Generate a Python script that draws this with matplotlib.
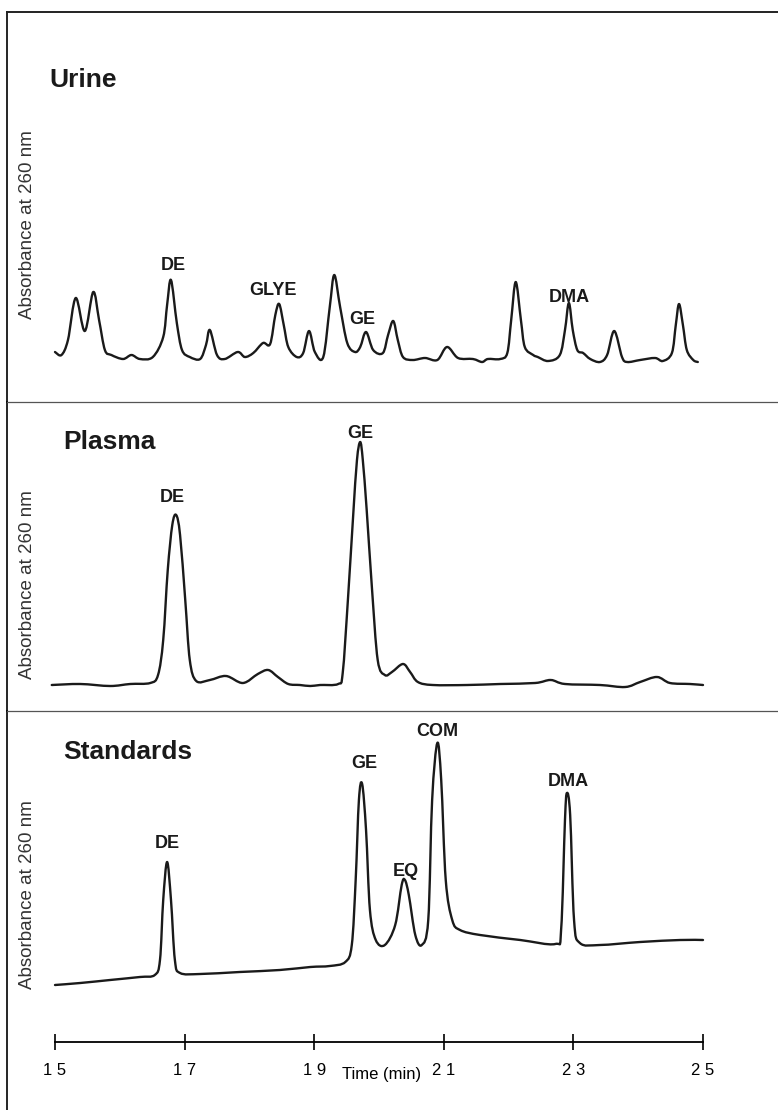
import matplotlib
matplotlib.use('Agg')
import matplotlib.pyplot as plt
import numpy as np
from matplotlib.path import Path
from matplotlib.patches import PathPatch

plt.rcParams['font.family'] = ['Liberation Sans', 'DejaVu Sans']

# retention time (min) and absorbance (arbitrary units)
urine_t = [15.00, 15.10, 15.20, 15.32, 15.46, 15.59, 15.68, 15.77, 15.87, 16.05, 16.18, 16.31,
           16.51, 16.67, 16.73, 16.79, 16.88, 16.96, 17.08, 17.24, 17.33, 17.39, 17.50, 17.62,
           17.82, 17.93, 18.06, 18.21, 18.32, 18.40, 18.46, 18.53, 18.60, 18.73, 18.83, 18.92,
           19.01, 19.14, 19.24, 19.31, 19.40, 19.51, 19.63, 19.71, 19.80, 19.91, 20.06, 20.14,
           20.22, 20.29, 20.37, 20.52, 20.71, 20.90, 21.05, 21.22, 21.45, 21.59, 21.68, 21.87,
           21.98, 22.04, 22.11, 22.19, 22.25, 22.38, 22.45, 22.61, 22.79, 22.87, 22.93, 22.99,
           23.06, 23.15, 23.26, 23.41, 23.52, 23.63, 23.75, 23.83, 24.03, 24.26, 24.38, 24.52,
           24.58, 24.63, 24.69, 24.75, 24.85, 24.92]
urine_a = [0.50, 0.47, 0.62, 1.04, 0.71, 1.10, 0.82, 0.52, 0.47, 0.43, 0.47, 0.43,
           0.45, 0.65, 0.97, 1.22, 0.79, 0.52, 0.45, 0.43, 0.57, 0.72, 0.47, 0.43,
           0.50, 0.45, 0.49, 0.59, 0.58, 0.87, 0.98, 0.77, 0.55, 0.45, 0.49, 0.71,
           0.50, 0.45, 0.95, 1.27, 0.95, 0.59, 0.50, 0.55, 0.70, 0.52, 0.49, 0.67,
           0.81, 0.62, 0.45, 0.42, 0.44, 0.42, 0.55, 0.44, 0.43, 0.40, 0.43, 0.43,
           0.49, 0.82, 1.20, 0.82, 0.55, 0.47, 0.45, 0.41, 0.47, 0.72, 0.99, 0.72,
           0.52, 0.49, 0.43, 0.40, 0.47, 0.71, 0.45, 0.40, 0.42, 0.44, 0.41, 0.49,
           0.77, 0.98, 0.77, 0.52, 0.42, 0.40]

plasma_t = [14.95, 15.39, 15.85, 16.16, 16.47, 16.59, 16.67, 16.74, 16.81, 16.87, 16.93, 17.01,
            17.08, 17.18, 17.39, 17.64, 17.90, 18.13, 18.29, 18.44, 18.60, 18.78, 18.94, 19.09,
            19.37, 19.44, 19.52, 19.60, 19.66, 19.71, 19.75, 19.81, 19.89, 19.98, 20.09, 20.20,
            20.37, 20.48, 20.60, 20.83, 21.36, 21.87, 22.41, 22.65, 22.87, 23.41, 23.80, 24.03,
            24.29, 24.49, 24.80, 25.00]
plasma_a = [0.26, 0.27, 0.25, 0.27, 0.28, 0.36, 0.71, 1.41, 1.86, 1.96, 1.76, 1.11,
            0.51, 0.30, 0.31, 0.35, 0.28, 0.37, 0.41, 0.34, 0.27, 0.26, 0.25, 0.26,
            0.27, 0.38, 1.11, 1.94, 2.51, 2.69, 2.51, 2.01, 1.24, 0.51, 0.36, 0.39,
            0.47, 0.39, 0.29, 0.26, 0.26, 0.27, 0.28, 0.31, 0.27, 0.26, 0.24, 0.29,
            0.34, 0.28, 0.27, 0.26]

std_t = [15.00, 15.39, 15.85, 16.31, 16.54, 16.62, 16.67, 16.73, 16.79, 16.85, 16.93, 17.24,
         17.85, 18.47, 18.94, 19.24, 19.48, 19.58, 19.64, 19.69, 19.74, 19.80, 19.86, 19.95,
         20.09, 20.25, 20.35, 20.40, 20.46, 20.56, 20.66, 20.76, 20.82, 20.90, 20.96, 21.03,
         21.13, 21.25, 21.56, 22.18, 22.72, 22.81, 22.87, 22.90, 22.95, 23.01, 23.10, 23.41,
         24.03, 24.65, 25.00]
std_a = [1.25, 1.27, 1.30, 1.33, 1.35, 1.50, 2.10, 2.48, 2.10, 1.50, 1.37, 1.36,
         1.38, 1.40, 1.43, 1.44, 1.48, 1.65, 2.30, 3.10, 3.26, 2.80, 2.00, 1.70,
         1.65, 1.85, 2.25, 2.30, 2.15, 1.75, 1.65, 1.90, 3.10, 3.67, 3.30, 2.30,
         1.90, 1.80, 1.75, 1.70, 1.66, 1.80, 2.90, 3.17, 2.95, 1.90, 1.67, 1.65,
         1.68, 1.70, 1.70]

# peak labels: (text, time, absorbance)
urine_peaks = [('DE', 16.82, 1.37), ('GLYE', 18.36, 1.12), ('GE', 19.75, 0.83), ('DMA', 22.93, 1.05)]
plasma_peaks = [('DE', 16.81, 2.14), ('GE', 19.71, 2.78)]
std_peaks = [('DE', 16.73, 2.67), ('GE', 19.77, 3.46), ('EQ', 20.42, 2.38),
             ('COM', 20.90, 3.78), ('DMA', 22.92, 3.28)]

time_ticks = [15, 17, 19, 21, 23, 25]


def trace(ax, t, a):
    # smooth curve through the read points (Catmull-Rom as cubic Bezier)
    p = np.column_stack([t, a])
    q = np.vstack([p[0], p, p[-1]])
    verts, codes = [p[0]], [Path.MOVETO]
    for i in range(1, len(q) - 2):
        c1 = q[i] + (q[i + 1] - q[i - 1]) / 6
        c2 = q[i + 1] - (q[i + 2] - q[i]) / 6
        verts += [c1, c2, q[i + 1]]
        codes += [Path.CURVE4] * 3
    ax.add_patch(PathPatch(Path(verts, codes), fill=False, lw=1.7, ec='#1a1a1a',
                           joinstyle='round', capstyle='round'))


W, H = 778, 1110
fig = plt.figure(figsize=(W / 100, H / 100), dpi=100)

x0, x1 = 15 - 48 / 64.8, 15 + 723 / 64.8

# name, panel top/bottom (px), title pos (px), ylabel centre (px), data
panels = [
    ('Urine', 12, 402, (49, 80), 225, urine_t, urine_a, urine_peaks),
    ('Plasma', 402, 711, (63, 442), 585, plasma_t, plasma_a, plasma_peaks),
    ('Standards', 711, 1110, (63, 752), 895, std_t, std_a, std_peaks),
]

for i, (name, top, bot, tpos, ymid, t, a, peaks) in enumerate(panels):
    ax = fig.add_axes([7 / W, 1 - bot / H, 1 - 7 / W, (bot - top) / H])
    ax.set_xlim(x0, x1)
    ax.set_ylim(0, (bot - top) / 100)
    trace(ax, t, a)
    for s in ['right', 'bottom']:
        ax.spines[s].set_visible(False)
    ax.spines['left'].set_linewidth(1.2)
    ax.spines['top'].set_linewidth(1.4 if i == 0 else 0.9)
    ax.spines['top'].set_color('#222222' if i == 0 else '#555555')
    ax.set_xticks([])
    ax.set_yticks([])
    ax.patch.set_alpha(0)
    fig.text(tpos[0] / W, 1 - tpos[1] / H, name, fontsize=19, fontweight='bold',
             ha='left', va='center', color='#1a1a1a')
    fig.text(28 / W, 1 - ymid / H, 'Absorbance at 260 nm', rotation=90,
             fontsize=13.5, ha='center', va='center', color='#333333')
    for lab, pt, pa in peaks:
        ax.text(pt, pa, lab, fontsize=13, fontweight='bold', ha='center', va='center',
                color='#1a1a1a')

# time axis
axt = fig.add_axes([55 / W, 1 - 1042 / H, 648 / W, 0.001])
axt.set_xlim(15, 25)
axt.set_yticks([])
for s in ['left', 'right', 'top']:
    axt.spines[s].set_visible(False)
axt.spines['bottom'].set_linewidth(1.3)
axt.set_xticks(time_ticks)
axt.set_xticklabels([' '.join(str(v)) for v in time_ticks], fontsize=12)
axt.tick_params(axis='x', direction='inout', length=12, width=1.2, pad=9)
axt.patch.set_alpha(0)
fig.text(382 / W, 1 - 1074 / H, 'Time (min)', fontsize=12, ha='center', va='center')

fig.savefig('out.png', dpi=100)
